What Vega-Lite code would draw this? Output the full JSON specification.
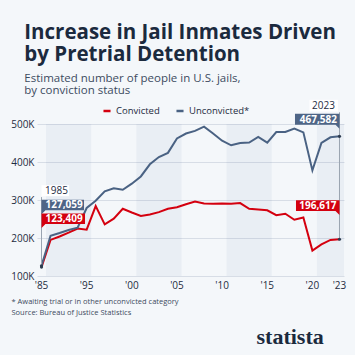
{
  "$schema": "https://vega.github.io/schema/vega-lite/v6.json",
  "width": 307,
  "height": 152,
  "autosize": {"type": "none"},
  "padding": {"left": 37, "top": 124, "right": 11, "bottom": 79},
  "background": "#f4f7fa",
  "config": {"view": {"stroke": null}, "font": "Open Sans"},
  "title": {
    "text": ["Increase in Jail Inmates Driven", "by Pretrial Detention"],
    "subtitle": ["Estimated number of people in U.S. jails,", "by conviction status"],
    "anchor": "start",
    "frame": "group",
    "dx": -12.7,
    "offset": 3,
    "font": "Open Sans",
    "fontSize": 20.5,
    "fontWeight": "bold",
    "color": "#1b2a3e",
    "lineHeight": 22.5,
    "subtitleFont": "Open Sans",
    "subtitleFontSize": 11.5,
    "subtitleColor": "#3c4b5f",
    "subtitleLineHeight": 12.5,
    "subtitlePadding": 7
  },
  "datasets": {
    "jail": [
      {"year": "1985", "status": "Convicted", "value": 123409},
      {"year": "1991", "status": "Convicted", "value": 195000},
      {"year": "1992", "status": "Convicted", "value": 204000},
      {"year": "1993", "status": "Convicted", "value": 214000},
      {"year": "1994", "status": "Convicted", "value": 225000},
      {"year": "1995", "status": "Convicted", "value": 222000},
      {"year": "1996", "status": "Convicted", "value": 284000},
      {"year": "1997", "status": "Convicted", "value": 236000},
      {"year": "1998", "status": "Convicted", "value": 251000},
      {"year": "1999", "status": "Convicted", "value": 277000},
      {"year": "2000", "status": "Convicted", "value": 267000},
      {"year": "2001", "status": "Convicted", "value": 258000},
      {"year": "2002", "status": "Convicted", "value": 262000},
      {"year": "2003", "status": "Convicted", "value": 268000},
      {"year": "2004", "status": "Convicted", "value": 277000},
      {"year": "2005", "status": "Convicted", "value": 281000},
      {"year": "2006", "status": "Convicted", "value": 289000},
      {"year": "2007", "status": "Convicted", "value": 296000},
      {"year": "2008", "status": "Convicted", "value": 291000},
      {"year": "2009", "status": "Convicted", "value": 290000},
      {"year": "2010", "status": "Convicted", "value": 291000},
      {"year": "2011", "status": "Convicted", "value": 290000},
      {"year": "2012", "status": "Convicted", "value": 292000},
      {"year": "2013", "status": "Convicted", "value": 277000},
      {"year": "2014", "status": "Convicted", "value": 275000},
      {"year": "2015", "status": "Convicted", "value": 273000},
      {"year": "2016", "status": "Convicted", "value": 260000},
      {"year": "2017", "status": "Convicted", "value": 264000},
      {"year": "2018", "status": "Convicted", "value": 248000},
      {"year": "2019", "status": "Convicted", "value": 254000},
      {"year": "2020", "status": "Convicted", "value": 167000},
      {"year": "2021", "status": "Convicted", "value": 183000},
      {"year": "2022", "status": "Convicted", "value": 195000},
      {"year": "2023", "status": "Convicted", "value": 196617},
      {"year": "1985", "status": "Unconvicted", "value": 127059},
      {"year": "1991", "status": "Unconvicted", "value": 206000},
      {"year": "1992", "status": "Unconvicted", "value": 213000},
      {"year": "1993", "status": "Unconvicted", "value": 221000},
      {"year": "1994", "status": "Unconvicted", "value": 227000},
      {"year": "1995", "status": "Unconvicted", "value": 279000},
      {"year": "1996", "status": "Unconvicted", "value": 298000},
      {"year": "1997", "status": "Unconvicted", "value": 323000},
      {"year": "1998", "status": "Unconvicted", "value": 331000},
      {"year": "1999", "status": "Unconvicted", "value": 327000},
      {"year": "2000", "status": "Unconvicted", "value": 343000},
      {"year": "2001", "status": "Unconvicted", "value": 362000},
      {"year": "2002", "status": "Unconvicted", "value": 394000},
      {"year": "2003", "status": "Unconvicted", "value": 413000},
      {"year": "2004", "status": "Unconvicted", "value": 424000},
      {"year": "2005", "status": "Unconvicted", "value": 462000},
      {"year": "2006", "status": "Unconvicted", "value": 475000},
      {"year": "2007", "status": "Unconvicted", "value": 482000},
      {"year": "2008", "status": "Unconvicted", "value": 493000},
      {"year": "2009", "status": "Unconvicted", "value": 475000},
      {"year": "2010", "status": "Unconvicted", "value": 456000},
      {"year": "2011", "status": "Unconvicted", "value": 444000},
      {"year": "2012", "status": "Unconvicted", "value": 450000},
      {"year": "2013", "status": "Unconvicted", "value": 451000},
      {"year": "2014", "status": "Unconvicted", "value": 466000},
      {"year": "2015", "status": "Unconvicted", "value": 451000},
      {"year": "2016", "status": "Unconvicted", "value": 479000},
      {"year": "2017", "status": "Unconvicted", "value": 479000},
      {"year": "2018", "status": "Unconvicted", "value": 488000},
      {"year": "2019", "status": "Unconvicted", "value": 478000},
      {"year": "2020", "status": "Unconvicted", "value": 378000},
      {"year": "2021", "status": "Unconvicted", "value": 450000},
      {"year": "2022", "status": "Unconvicted", "value": 465000},
      {"year": "2023", "status": "Unconvicted", "value": 467582}
    ],
    "bands": [
      {"year": "1991"}, {"year": "1992"}, {"year": "1993"}, {"year": "1994"}, {"year": "1995"},
      {"year": "2001"}, {"year": "2002"}, {"year": "2003"}, {"year": "2004"}, {"year": "2005"},
      {"year": "2011"}, {"year": "2012"}, {"year": "2013"}, {"year": "2014"}, {"year": "2015"},
      {"year": "2021"}, {"year": "2022"}, {"year": "2023"}
    ]
  },
  "layer": [
    {
      "data": {"name": "bands"},
      "mark": {"type": "rect", "color": "#1f4e8c", "opacity": 0.05, "strokeWidth": 0},
      "encoding": {
        "x": {
          "field": "year", "type": "ordinal",
          "scale": {"type": "band", "paddingInner": 0, "paddingOuter": 0,
            "domain": ["1985","1991","1992","1993","1994","1995","1996","1997","1998","1999","2000","2001","2002","2003","2004","2005","2006","2007","2008","2009","2010","2011","2012","2013","2014","2015","2016","2017","2018","2019","2020","2021","2022","2023"]},
          "axis": {
            "values": ["1985","1995","2000","2005","2010","2015","2020","2023"],
            "labelExpr": "\"'\" + substring(datum.value, 2, 4)",
            "bandPosition": 0,
            "domain": false, "ticks": false, "grid": false,
            "labelAngle": 0, "labelFontSize": 10, "labelColor": "#1e2c3f",
            "labelPadding": 4, "labelOverlap": false, "labelFlush": false,
            "title": ["* Awaiting trial or in other unconvicted category", "Source: Bureau of Justice Statistics"],
            "titleX": -26, "titleY": 21, "titleAlign": "left", "titleAnchor": "start",
            "titleBaseline": "top", "titleFontSize": 7.5, "titleFontWeight": "normal",
            "titleColor": "#3d4b5e", "titleLineHeight": 11
          }
        }
      }
    },
    {
      "data": {"name": "jail"},
      "mark": {"type": "line", "strokeWidth": 2},
      "encoding": {
        "x": {"field": "year", "type": "ordinal", "bandPosition": 0.5},
        "y": {
          "field": "value", "type": "quantitative",
          "scale": {"domain": [100000, 500000], "nice": false, "zero": false},
          "axis": {
            "tickCount": 4,
            "labelExpr": "format(datum.value / 1000, 'd') + 'K'",
            "labelOverlap": false, "labelFlush": false,
            "domain": false, "ticks": false, "gridColor": "#d7dde6",
            "labelPadding": 3, "labelFontSize": 10, "labelColor": "#1e2c3f",
            "title": "statista", "titleAngle": 0, "titleX": 219, "titleY": 219,
            "titleAlign": "left", "titleBaseline": "alphabetic",
            "titleFont": "Liberation Sans Narrow", "titleFontSize": 22,
            "titleFontWeight": "bold", "titleColor": "#1b2a3e"
          }
        },
        "color": {
          "field": "status", "type": "nominal",
          "scale": {"domain": ["Convicted", "Unconvicted"], "range": ["#d4000f", "#4a6283"]},
          "legend": {
            "orient": "none", "legendX": 65, "legendY": -18, "direction": "horizontal",
            "title": null, "symbolType": "stroke", "symbolStrokeWidth": 2.5, "symbolSize": 50,
            "labelFontSize": 9.5, "labelColor": "#1e2c3f", "columnPadding": 11, "labelOffset": 4,
            "labelExpr": "datum.label == 'Unconvicted' ? 'Unconvicted*' : datum.label"
          }
        }
      }
    },
    {
      "data": {"name": "jail"},
      "transform": [{"filter": "datum.year == '1985' && datum.status == 'Convicted'"}],
      "mark": {"type": "rule", "color": "#9aa4b1", "strokeWidth": 1, "y2Offset": -70},
      "encoding": {
        "x": {"field": "year", "type": "ordinal", "bandPosition": 0.5},
        "y": {"field": "value", "type": "quantitative"},
        "y2": {"field": "value"}
      }
    },
    {
      "data": {"name": "jail"},
      "transform": [{"filter": "datum.year == '2023' && datum.status == 'Convicted'"}],
      "mark": {"type": "rule", "color": "#9aa4b1", "strokeWidth": 1, "y2Offset": -127},
      "encoding": {
        "x": {"field": "year", "type": "ordinal", "bandPosition": 0.5},
        "y": {"field": "value", "type": "quantitative"},
        "y2": {"field": "value"}
      }
    },
    {
      "data": {"name": "jail"},
      "transform": [{"filter": "datum.year == '1985' || datum.year == '2023'"}],
      "mark": {"type": "point", "filled": true, "size": 10, "color": "#2c3b4f", "opacity": 1},
      "encoding": {
        "x": {"field": "year", "type": "ordinal", "bandPosition": 0.5},
        "y": {"field": "value", "type": "quantitative"}
      }
    },
    {
      "data": {"name": "jail"},
      "transform": [{"filter": "datum.year == '1985' && datum.status == 'Unconvicted'"}],
      "mark": {"type": "point", "shape": "M0,-80.5 h27.6 v11 h-27.6 Z", "size": 4, "filled": true, "color": "#ffffff", "opacity": 1, "strokeWidth": 0},
      "encoding": {
        "x": {"field": "year", "type": "ordinal", "bandPosition": 0.5},
        "y": {"field": "value", "type": "quantitative"}
      }
    },
    {
      "data": {"name": "jail"},
      "transform": [{"filter": "datum.year == '1985' && datum.status == 'Unconvicted'"}],
      "mark": {"type": "point", "shape": "M0,-66 h42.5 v10.5 h-38.5 l-4,4 Z", "size": 4, "filled": true, "color": "#4e6586", "opacity": 1, "strokeWidth": 0},
      "encoding": {
        "x": {"field": "year", "type": "ordinal", "bandPosition": 0.5},
        "y": {"field": "value", "type": "quantitative"}
      }
    },
    {
      "data": {"name": "jail"},
      "transform": [{"filter": "datum.year == '1985' && datum.status == 'Convicted'"}],
      "mark": {"type": "point", "shape": "M0,-53.5 h43.5 v10.5 h-39.5 l-4,4 Z", "size": 4, "filled": true, "color": "#d4000f", "opacity": 1, "strokeWidth": 0},
      "encoding": {
        "x": {"field": "year", "type": "ordinal", "bandPosition": 0.5},
        "y": {"field": "value", "type": "quantitative"}
      }
    },
    {
      "data": {"name": "jail"},
      "transform": [{"filter": "datum.year == '2023' && datum.status == 'Unconvicted'"}],
      "mark": {"type": "point", "shape": "M-30,-36.5 h28.5 v11.7 h-28.5 Z", "size": 4, "filled": true, "color": "#ffffff", "opacity": 1, "strokeWidth": 0},
      "encoding": {
        "x": {"field": "year", "type": "ordinal", "bandPosition": 0.5},
        "y": {"field": "value", "type": "quantitative"}
      }
    },
    {
      "data": {"name": "jail"},
      "transform": [{"filter": "datum.year == '2023' && datum.status == 'Unconvicted'"}],
      "mark": {"type": "point", "shape": "M-44.5,-22.5 h44.5 v15 l-4,-4 h-40.5 Z", "size": 4, "filled": true, "color": "#4e6586", "opacity": 1, "strokeWidth": 0},
      "encoding": {
        "x": {"field": "year", "type": "ordinal", "bandPosition": 0.5},
        "y": {"field": "value", "type": "quantitative"}
      }
    },
    {
      "data": {"name": "jail"},
      "transform": [{"filter": "datum.year == '2023' && datum.status == 'Convicted'"}],
      "mark": {"type": "point", "shape": "M-43.5,-39 h43.5 v14.7 l-4,-4 h-39.5 Z", "size": 4, "filled": true, "color": "#d4000f", "opacity": 1, "strokeWidth": 0},
      "encoding": {
        "x": {"field": "year", "type": "ordinal", "bandPosition": 0.5},
        "y": {"field": "value", "type": "quantitative"}
      }
    },
    {
      "data": {"name": "jail"},
      "transform": [{"filter": "datum.year == '1985' && datum.status == 'Unconvicted'"}],
      "mark": {"type": "text", "align": "left", "baseline": "middle", "dx": 3.5, "dy": -75, "fontSize": 10, "color": "#1e2c3f"},
      "encoding": {
        "x": {"field": "year", "type": "ordinal", "bandPosition": 0.5},
        "y": {"field": "value", "type": "quantitative"},
        "text": {"field": "year"}
      }
    },
    {
      "data": {"name": "jail"},
      "transform": [{"filter": "datum.year == '1985' && datum.status == 'Unconvicted'"}],
      "mark": {"type": "text", "align": "left", "baseline": "middle", "dx": 4, "dy": -60.8, "fontSize": 10, "fontWeight": "bold", "color": "#ffffff"},
      "encoding": {
        "x": {"field": "year", "type": "ordinal", "bandPosition": 0.5},
        "y": {"field": "value", "type": "quantitative"},
        "text": {"field": "value", "type": "quantitative", "format": ","}
      }
    },
    {
      "data": {"name": "jail"},
      "transform": [{"filter": "datum.year == '1985' && datum.status == 'Convicted'"}],
      "mark": {"type": "text", "align": "left", "baseline": "middle", "dx": 4, "dy": -48.3, "fontSize": 10, "fontWeight": "bold", "color": "#ffffff"},
      "encoding": {
        "x": {"field": "year", "type": "ordinal", "bandPosition": 0.5},
        "y": {"field": "value", "type": "quantitative"},
        "text": {"field": "value", "type": "quantitative", "format": ","}
      }
    },
    {
      "data": {"name": "jail"},
      "transform": [{"filter": "datum.year == '2023' && datum.status == 'Unconvicted'"}],
      "mark": {"type": "text", "align": "right", "baseline": "middle", "dx": -4.5, "dy": -30.6, "fontSize": 10, "color": "#1e2c3f"},
      "encoding": {
        "x": {"field": "year", "type": "ordinal", "bandPosition": 0.5},
        "y": {"field": "value", "type": "quantitative"},
        "text": {"field": "year"}
      }
    },
    {
      "data": {"name": "jail"},
      "transform": [{"filter": "datum.year == '2023' && datum.status == 'Unconvicted'"}],
      "mark": {"type": "text", "align": "right", "baseline": "middle", "dx": -2.5, "dy": -16.8, "fontSize": 10, "fontWeight": "bold", "color": "#ffffff"},
      "encoding": {
        "x": {"field": "year", "type": "ordinal", "bandPosition": 0.5},
        "y": {"field": "value", "type": "quantitative"},
        "text": {"field": "value", "type": "quantitative", "format": ","}
      }
    },
    {
      "data": {"name": "jail"},
      "transform": [{"filter": "datum.year == '2023' && datum.status == 'Convicted'"}],
      "mark": {"type": "text", "align": "right", "baseline": "middle", "dx": -3, "dy": -33.7, "fontSize": 10, "fontWeight": "bold", "color": "#ffffff"},
      "encoding": {
        "x": {"field": "year", "type": "ordinal", "bandPosition": 0.5},
        "y": {"field": "value", "type": "quantitative"},
        "text": {"field": "value", "type": "quantitative", "format": ","}
      }
    }
  ]
}
